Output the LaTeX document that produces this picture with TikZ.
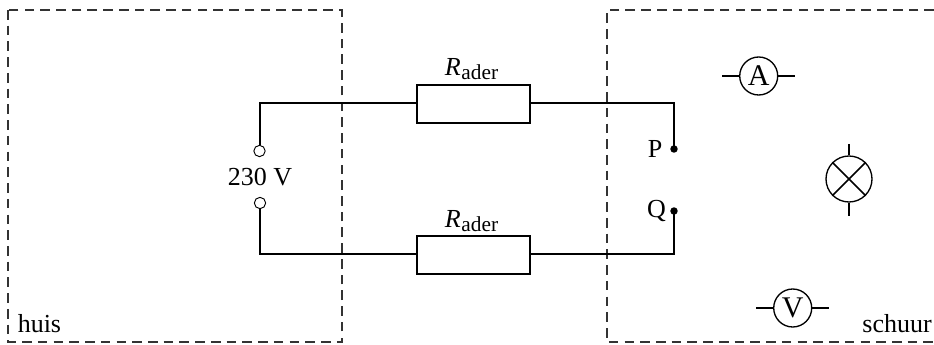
\documentclass[tikz,border=0pt]{standalone}
\usepackage{fontspec}
\setmainfont{Liberation Serif}
\begin{document}
\begin{tikzpicture}[x=0.75pt,y=-0.75pt,
  wire/.style={line width=1.5pt,line join=miter},
  dashbox/.style={line width=0.8pt,draw=black!80,dash pattern=on 7.2pt off 4.6pt},
  resistor/.style={draw,line width=1.1pt,fill=none,minimum width=84.5pt,minimum height=28.3pt,inner sep=0pt},
  meter/.style={draw,circle,line width=1.0pt,minimum size=28.5pt,inner sep=0pt,font=\fontsize{22.5}{23}\selectfont},
  lampc/.style={draw,circle,line width=1.0pt,minimum size=34.5pt,inner sep=0pt},
  lead/.style={line width=1.1pt},
  term/.style={draw,circle,line width=0.7pt,fill=white,minimum size=8.5pt,inner sep=0pt},
  pin/.style={circle,fill=black,minimum size=5.6pt,inner sep=0pt},
  lab/.style={inner sep=0pt,font=\fontsize{19.5}{20}\selectfont},
]
\useasboundingbox (0,0) rectangle (934,345);
% boxes
\coordinate (hTL) at (8,10); \coordinate (hBR) at (342,342);
\draw[dashbox] (hTL) rectangle (hBR);
\coordinate (sT) at (934,10); \coordinate (sTL) at (607,10);
\coordinate (sBL) at (607,342); \coordinate (sB) at (934,342);
\draw[dashbox] (sT) -- (sTL) -- (sBL) -- (sB);
% components
\node[resistor] (r1) at (473.5,104) {};
\node[resistor] (r2) at (473.5,255) {};
\node[term] (t1) at (259.5,151) {};
\node[term] (t2) at (260,203) {};
\node[pin] (p) at (674,149) {};
\node[pin] (q) at (674,211) {};
\coordinate (c1) at (259.5,103); \coordinate (c2) at (260,254);
\coordinate (c3) at (674,103); \coordinate (c4) at (674,254);
\draw[wire] (t1.north) -- (c1) -- (r1.west |- c1);
\draw[wire] (t2.south) -- (c2) -- (r2.west |- c2);
\draw[wire] (r1.east |- c3) -- (c3) -- (p.center);
\draw[wire] (r2.east |- c4) -- (c4) -- (q.center);
% meters
\node[meter] (a) at (758.7,76) {A};
\coordinate (a1) at (722,76); \coordinate (a2) at (795,76);
\draw[lead] (a1) -- (a.west) (a.east) -- (a2);
\node[meter] (v) at (792.7,308) {V};
\coordinate (v1) at (756,308); \coordinate (v2) at (829,308);
\draw[lead] (v1) -- (v.west) (v.east) -- (v2);
\node[lampc] (l) at (849,179) {};
\coordinate (l1) at (849,144); \coordinate (l2) at (849,216);
\draw[lead] (l1) -- (l.north) (l.south) -- (l2);
\draw[lead] (l.45) -- (l.225) (l.135) -- (l.315);
% labels
\node[lab] (vt) at (260,177) {230 V};
\node[lab,anchor=base] (ra) at (471.5,76) {\textit{R}\kern0.5pt{\fontsize{16}{17}\selectfont\raisebox{-3pt}{ader}}};
\node[lab,anchor=base] (rb) at (471.5,228) {\textit{R}\kern0.5pt{\fontsize{16}{17}\selectfont\raisebox{-3pt}{ader}}};
\node[lab] (pl) at (655,149) {P};
\node[lab] (ql) at (656.5,211) {Q};
\node[lab,anchor=base west] (h) at (17.5,332) {huis};
\node[lab,anchor=base east] (s) at (932,332) {schuur};
\end{tikzpicture}
\end{document}
